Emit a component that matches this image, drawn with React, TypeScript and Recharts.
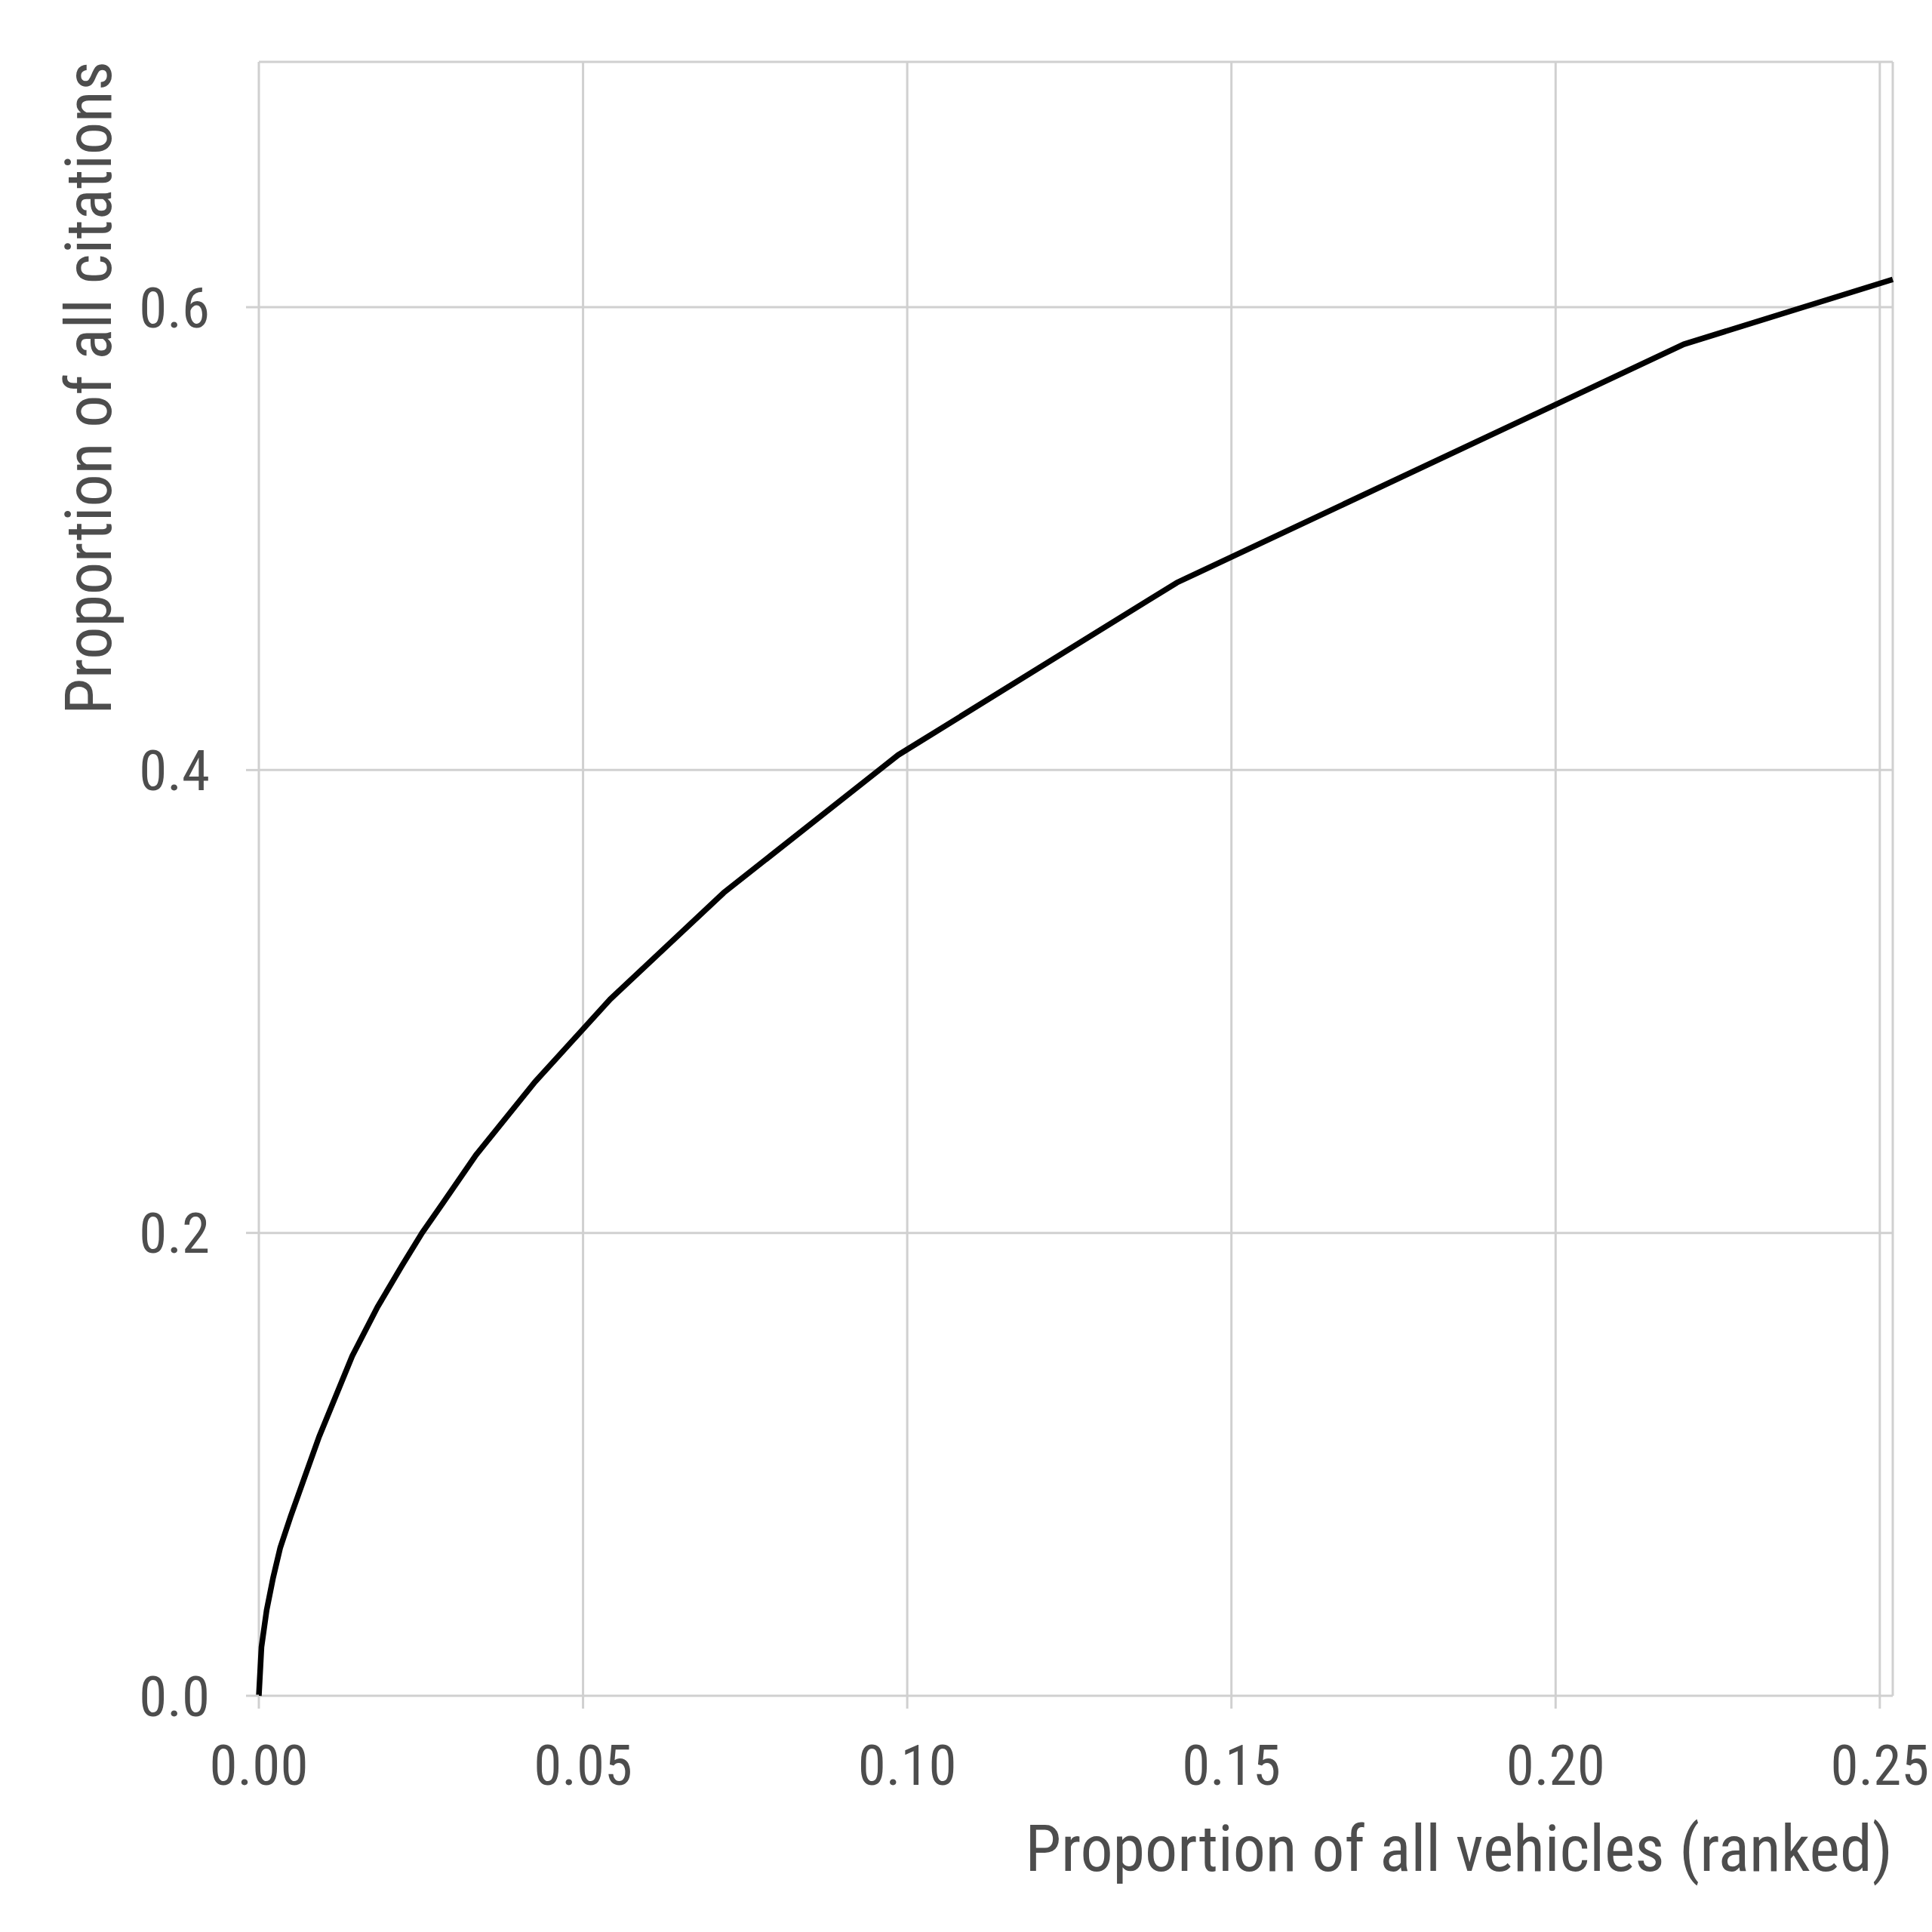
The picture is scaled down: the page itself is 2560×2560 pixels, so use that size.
import React from "react";
import { LineChart, Line, XAxis, YAxis, CartesianGrid, Label } from "recharts";

// cumulative share of vehicles (ranked) vs cumulative share of citations
const vehicleShare = [
   0, 0.0004, 0.0012, 0.0022, 0.0033, 0.0049, 0.007, 0.0093, 0.0144, 0.0183,
   0.0221, 0.0252, 0.0283, 0.0335, 0.0426, 0.0542, 0.0717, 0.0986, 0.1416, 0.2198, 0.252,
];
const citationShare = [
   0, 0.021, 0.037, 0.051, 0.064, 0.0775, 0.094, 0.112, 0.1468, 0.168,
   0.186, 0.2001, 0.2126, 0.2337, 0.2653, 0.301, 0.347, 0.4065, 0.481, 0.584, 0.612,
];

const xTicks = [0, 0.05, 0.1, 0.15, 0.2, 0.25];
const yTicks = [0, 0.2, 0.4, 0.6];

const xTitle = "Proportion of all vehicles (ranked)";
const yTitle = "Proportion of all citations";

const data = vehicleShare.map((x, i) => ({ x, y: citationShare[i] }));

const FONT = "'Liberation Sans Narrow', 'Arial Narrow', 'Roboto Condensed', sans-serif";
const TEXT = "#4d4d4d";
const GRID = "#d0d0d0";

const XTitle = (props: any) => {
   const vb = props.viewBox;
   return (
      <text x={vb.x + vb.width} y={vb.y + 232} textAnchor="end"
         fill={TEXT} fontSize={86} fontFamily={FONT}>{xTitle}</text>
   );
};

const YTitle = (props: any) => {
   const vb = props.viewBox;
   const x = vb.x + 147;
   const y = vb.y - 1;
   return (
      <text x={x} y={y} textAnchor="end" transform={`rotate(-90, ${x}, ${y})`}
         fill={TEXT} fontSize={86} fontFamily={FONT}>{yTitle}</text>
   );
};

const App: React.FC = () => {
   return (
      <div style={{ position: "absolute", left: 0, top: 0, width: 2560, height: 2560, background: "#fff" }}>
         <LineChart width={2560} height={2560} data={data}
            margin={{ top: 82, right: 52, left: 0, bottom: 0 }}>
            <CartesianGrid stroke={GRID} strokeWidth={3} />
            <XAxis type="number" dataKey="x" domain={[0, 0.252]} ticks={xTicks} interval={0}
               height={313} axisLine={false} tickSize={17} tickMargin={48}
               tickLine={{ stroke: GRID, strokeWidth: 3 }}
               tick={{ fill: TEXT, fontSize: 75, fontFamily: FONT }}
               tickFormatter={(v: number) => v.toFixed(2)}>
               <Label content={XTitle} />
            </XAxis>
            <YAxis type="number" dataKey="y" domain={[0, 0.706]} ticks={yTicks} interval={0}
               width={343} axisLine={false} tickSize={17} tickMargin={48}
               tickLine={{ stroke: GRID, strokeWidth: 3 }}
               tick={{ fill: TEXT, fontSize: 75, fontFamily: FONT }}
               tickFormatter={(v: number) => v.toFixed(1)}>
               <Label content={YTitle} />
            </YAxis>
            <Line type="linear" dataKey="y" stroke="#000" strokeWidth={7.5}
               dot={false} activeDot={false} isAnimationActive={false} />
         </LineChart>
      </div>
   );
};

export default App;
